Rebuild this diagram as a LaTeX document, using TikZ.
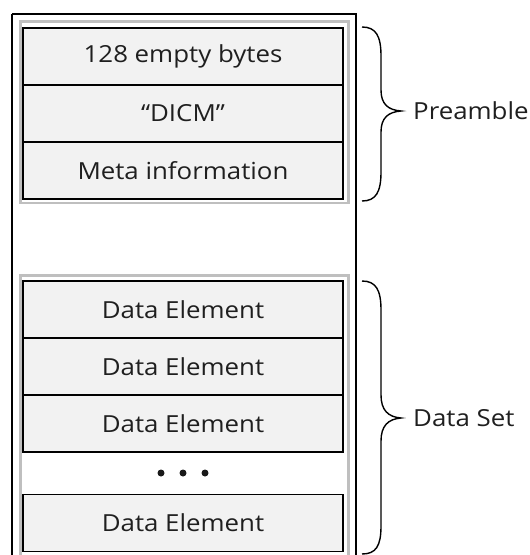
\documentclass[tikz,border=0pt]{standalone}
\usepackage{fontspec}
\setmainfont{Open Sans}[FakeStretch=1.1]
\newcommand\celltext{\fontsize{23.5pt}{28pt}\selectfont}
\begin{document}
\begin{tikzpicture}[x=1pt,y=-1pt,
  cell/.style={draw=black,line width=1.6pt,fill=black!5,minimum width=320pt,minimum height=57pt,inner sep=0pt,font=\celltext,text=black!88},
  group/.style={draw=black!25,line width=2.5pt,fill=white},
  side/.style={anchor=west,inner sep=0pt,font=\celltext,text=black!88},
  dot/.style={circle,fill=black!90,inner sep=0pt,minimum size=7pt},
  brc/.style={line width=1.4pt}]
\useasboundingbox[fill=white] (0,0) rectangle (530,555);
% outer frame
\draw[line width=2pt] (12,14) -- (12,565) (356,565) -- (356,14) -- (12,14);
% groups
\draw[group] (20.5,21.5) rectangle (348.5,203);
\draw[group] (20.5,275.5) rectangle (348.5,570);
% preamble cells
\node[cell] (c1) at (183,56.5) {128 empty bytes};
\node[cell] (c2) at (183,113.5) {“DICM”};
\node[cell] (c3) at (183,170.5) {Meta information};
% data cells
\node[cell] (d1) at (183,309.5) {Data Element};
\node[cell] (d2) at (183,366.5) {Data Element};
\node[cell] (d3) at (183,423.5) {Data Element};
\node[dot] (dotA) at (161,473) {};
\node[dot] (dotB) at (183,473) {};
\node[dot] (dotC) at (205,473) {};
\node[cell] (d4) at (183,523) {Data Element};
% labels
\node[side] (pre) at (413,111) {Preamble};
\node[side] (ds) at (413,418) {Data Set};
% braces
\draw[brc] (362,27) .. controls (376,27) and (381,36) .. (381,56)
  -- (381,90) .. controls (381,104) and (388,110) .. (401,111)
  .. controls (388,112) and (381,118) .. (381,132)
  -- (381,172) .. controls (381,192) and (376,201) .. (362,201);
\draw[brc] (362,281) .. controls (376,281) and (381,290) .. (381,310)
  -- (381,395) .. controls (381,410) and (388,417) .. (401,418)
  .. controls (388,419) and (381,426) .. (381,441)
  -- (381,526) .. controls (381,546) and (376,554) .. (362,554);
\end{tikzpicture}
\end{document}
